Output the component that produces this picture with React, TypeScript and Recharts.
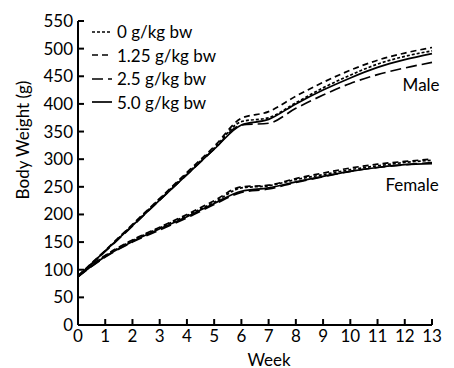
import { LineChart, Line, XAxis, YAxis, Legend, ReferenceDot } from "recharts";

const weeks = [0, 1, 2, 3, 4, 5, 6, 7, 8, 9, 10, 11, 12, 13];

// male body weight (g) by dose
const male0 = [88, 134, 181, 228, 274, 320, 368, 375, 402, 429, 452, 472, 486, 496];
const male125 = [89, 135, 182, 229, 276, 323, 374, 386, 414, 439, 461, 479, 492, 502];
const male25 = [87, 133, 179, 226, 272, 318, 362, 365, 392, 416, 437, 453, 465, 475];
const male50 = [88, 134, 180, 226, 272, 318, 362, 372, 400, 425, 447, 466, 480, 491];

// female body weight (g) by dose
const female0 = [88, 125, 153, 176, 198, 222, 248, 252, 263, 272, 281, 288, 294, 298];
const female125 = [89, 126, 154, 177, 200, 225, 250, 253, 265, 275, 284, 291, 296, 300];
const female25 = [87, 123, 150, 172, 194, 218, 240, 246, 258, 268, 278, 285, 290, 294];
const female50 = [88, 124, 151, 174, 196, 220, 242, 248, 259, 269, 278, 285, 290, 292];

const yTicks = [0, 50, 100, 150, 200, 250, 300, 350, 400, 450, 500, 550];

const doses = [
  { label: "0 g/kg bw", dash: "3 2" },
  { label: "1.25 g/kg bw", dash: "6 4" },
  { label: "2.5 g/kg bw", dash: "11 5" },
  { label: "5.0 g/kg bw", dash: undefined },
];

const data = weeks.map((w, i) => ({
  week: w,
  m0: male0[i],
  m125: male125[i],
  m25: male25[i],
  m50: male50[i],
  f0: female0[i],
  f125: female125[i],
  f25: female25[i],
  f50: female50[i],
}));

const FONT = "Lato, 'Open Sans', sans-serif";
const tickStyle = { fontSize: 17, fill: "#000", fontFamily: FONT };

function DoseLegend() {
  return (
    <div style={{ fontFamily: FONT, fontSize: 17, color: "#000" }}>
      {doses.map((d) => (
        <div key={d.label} style={{ display: "flex", alignItems: "center", height: 23.5 }}>
          <svg width={20} height={4} style={{ marginRight: 5 }}>
            <line x1={0} y1={2} x2={20} y2={2} stroke="#000" strokeWidth={1.7} strokeDasharray={d.dash} />
          </svg>
          <span>{d.label}</span>
        </div>
      ))}
    </div>
  );
}

function YLabel({ viewBox }: any) {
  const x = viewBox.x + 14;
  const y = viewBox.y + viewBox.height / 2 - 33;
  return (
    <text x={x} y={y} transform={`rotate(-90, ${x}, ${y})`} textAnchor="middle" dominantBaseline="central" style={tickStyle}>
      Body Weight (g)
    </text>
  );
}

function XLabel({ viewBox }: any) {
  const x = viewBox.x + viewBox.width / 2 + 14;
  return (
    <text x={x} y={viewBox.y + 34} textAnchor="middle" dominantBaseline="central" style={tickStyle}>
      Week
    </text>
  );
}

const series = [
  { key: "m0", dash: "3 2" },
  { key: "m125", dash: "6 4" },
  { key: "m25", dash: "11 5" },
  { key: "m50", dash: undefined },
  { key: "f0", dash: "3 2" },
  { key: "f125", dash: "6 4" },
  { key: "f25", dash: "11 5" },
  { key: "f50", dash: undefined },
];

export default function App() {
  return (
    <LineChart width={446} height={360} data={data} margin={{ top: 13, right: 22, left: 0, bottom: 0 }}>
      <XAxis
        dataKey="week"
        type="number"
        domain={[0, 13]}
        ticks={weeks}
        interval={0}
        height={43}
        tick={tickStyle}
        tickSize={-6}
        tickMargin={11}
        axisLine={{ stroke: "#000", strokeWidth: 2 }}
        tickLine={{ stroke: "#000", strokeWidth: 2 }}
        label={<XLabel />}
      />
      <YAxis
        type="number"
        domain={[0, 550]}
        ticks={yTicks}
        interval={0}
        width={70}
        tick={tickStyle}
        tickSize={-6}
        tickMargin={11}
        axisLine={{ stroke: "#000", strokeWidth: 2 }}
        tickLine={{ stroke: "#000", strokeWidth: 2 }}
        label={<YLabel />}
      />
      <Legend
        layout="vertical"
        align="center"
        verticalAlign="middle"
        content={<DoseLegend />}
        wrapperStyle={{ left: 84, top: 12, width: "auto" }}
      />
      {series.map((s) => (
        <Line
          key={s.key}
          dataKey={s.key}
          stroke="#000"
          strokeWidth={1.7}
          strokeDasharray={s.dash}
          dot={false}
          type="monotone"
          isAnimationActive={false}
          legendType="none"
        />
      ))}
      <ReferenceDot
        x={12.6}
        y={435}
        r={0}
        fill="none"
        stroke="none"
        label={{ value: "Male", position: "center", style: tickStyle }}
      />
      <ReferenceDot
        x={12.27}
        y={253}
        r={0}
        fill="none"
        stroke="none"
        label={{ value: "Female", position: "center", style: tickStyle }}
      />
    </LineChart>
  );
}
